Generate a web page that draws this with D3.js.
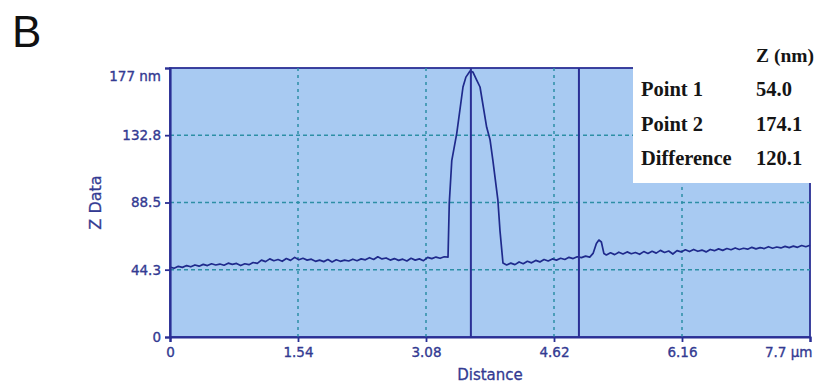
<!DOCTYPE html>
<html>
<head>
<meta charset="utf-8">
<script src="https://cdn.jsdelivr.net/npm/d3@7"></script>
<style>
html,body{margin:0;padding:0;background:#fff;}
svg{display:block;}
</style>
</head>
<body>
<svg id="chart" width="826" height="387"></svg>
<script>
// ---- data ----
const xTicks = [0, 1.54, 3.08, 4.62, 6.16, 7.7];
const xTickLabels = ["0", "1.54", "3.08", "4.62", "6.16", "7.7 µm"];
const yTicks = [0, 44.3, 88.5, 132.8, 177];
const yTickLabels = ["0", "44.3", "88.5", "132.8", "177 nm"];
const cursors = [3.62, 4.92];
const tableRows = ["Point 1", "Point 2", "Difference"];
const tableValues = ["54.0", "174.1", "120.1"];
const tableHeader = "Z (nm)";
// height profile: [distance (µm), Z (nm)]
const profile = [
 [0.00,46.0],[0.05,45.2],[0.10,46.5],[0.15,45.8],[0.20,47.0],[0.25,46.2],[0.30,47.4],[0.35,46.6],[0.40,47.8],[0.45,47.0],
 [0.50,48.2],[0.55,47.4],[0.60,48.0],[0.65,47.2],[0.70,48.6],[0.75,47.8],[0.80,48.4],[0.85,47.0],[0.90,48.2],[0.95,47.6],
 [1.00,49.0],[1.05,48.4],[1.10,50.6],[1.15,49.6],[1.20,51.4],[1.25,50.2],[1.30,51.0],[1.35,49.8],[1.40,51.6],[1.45,50.4],
 [1.50,52.4],[1.55,50.8],[1.60,51.8],[1.65,50.6],[1.70,51.2],[1.75,49.8],[1.80,50.6],[1.85,49.6],[1.90,51.0],[1.95,49.4],
 [2.00,50.8],[2.05,49.8],[2.10,50.6],[2.15,50.0],[2.20,51.2],[2.25,50.2],[2.30,51.4],[2.35,50.8],[2.40,52.2],[2.45,51.0],
 [2.50,52.8],[2.55,51.4],[2.60,52.0],[2.65,50.6],[2.70,51.6],[2.75,50.4],[2.80,51.2],[2.85,50.0],[2.90,51.8],[2.95,50.6],
 [3.00,51.4],[3.05,50.2],[3.10,52.4],[3.15,51.6],[3.20,52.6],[3.25,51.8],[3.30,52.8],[3.345,52.6],
 [3.36,88.0],[3.39,116.0],[3.45,134.0],[3.525,164.5],[3.56,171.0],[3.61,175.0],[3.645,174.3],[3.69,169.0],[3.73,164.5],
 [3.81,138.0],[3.85,130.0],[3.885,116.0],[3.945,90.0],[3.97,70.0],[4.006,48.7],
 [4.05,47.4],[4.10,48.6],[4.15,47.6],[4.20,49.4],[4.25,48.2],[4.30,49.8],[4.35,48.8],[4.40,50.4],[4.45,49.4],[4.50,51.0],
 [4.55,50.0],[4.60,51.4],[4.65,50.6],[4.70,51.8],[4.75,51.0],[4.80,52.4],[4.85,51.6],[4.90,52.8],[4.95,52.2],[5.00,53.2],
 [5.05,52.6],[5.09,55.0],[5.13,61.5],[5.16,63.8],[5.19,62.5],[5.22,55.0],[5.25,54.0],[5.30,55.4],[5.35,54.2],[5.40,55.8],
 [5.45,54.6],[5.50,56.0],[5.55,54.8],[5.60,55.6],[5.65,54.4],[5.70,56.2],[5.75,55.0],[5.80,56.4],[5.85,55.2],[5.90,57.0],
 [5.95,55.6],[6.00,56.6],[6.05,54.6],[6.10,56.8],[6.15,56.0],[6.20,57.4],[6.25,56.2],[6.30,57.6],[6.35,56.4],[6.40,57.2],
 [6.45,56.0],[6.50,57.6],[6.55,56.8],[6.60,58.0],[6.65,57.0],[6.70,58.2],[6.75,57.4],[6.80,58.6],[6.85,57.6],[6.90,58.4],
 [6.95,57.8],[7.00,59.0],[7.05,58.0],[7.10,58.8],[7.15,58.2],[7.20,59.4],[7.25,58.4],[7.30,59.2],[7.35,58.6],[7.40,59.6],
 [7.45,58.8],[7.50,59.8],[7.55,59.0],[7.60,60.2],[7.65,59.4],[7.70,60.4]
];

// ---- layout ----
const svg = d3.select("#chart");
const pL = 170, pR = 810, pT = 68, pB = 337;
const x = d3.scaleLinear().domain([0, 7.7]).range([pL, pR]);
const y = d3.scaleLinear().domain([0, 177]).range([pB, pT]);

const axisColor = "#2a2f95";
const labelColor = "#333a92";
const gridColor = "#2d8fa6";
const fillColor = "#a8caf2";
const lineColor = "#1f2a8c";

// panel letter
svg.append("text").attr("x", 12).attr("y", 47)
  .attr("font-family", "Liberation Sans, Arial, sans-serif")
  .attr("font-size", 44).attr("fill", "#111").text("B");

// plot background
svg.append("rect").attr("x", pL).attr("y", pT)
  .attr("width", pR - pL).attr("height", pB - pT)
  .attr("fill", fillColor).attr("stroke", axisColor).attr("stroke-width", 1.8);

// grid
const g = svg.append("g");
g.selectAll("line.hg").data(yTicks.filter(d => d > 0 && d < 177)).enter().append("line")
  .attr("x1", pL).attr("x2", pR)
  .attr("y1", d => y(d)).attr("y2", d => y(d))
  .attr("stroke", gridColor).attr("stroke-width", 1.5).attr("stroke-dasharray", "4,3");
g.selectAll("line.vg").data(xTicks.filter(d => d > 0 && d < 7.7)).enter().append("line")
  .attr("y1", pT).attr("y2", pB)
  .attr("x1", d => x(d)).attr("x2", d => x(d))
  .attr("stroke", gridColor).attr("stroke-width", 1.5).attr("stroke-dasharray", "3,4");

// profile line
svg.append("path").datum(profile)
  .attr("fill", "none").attr("stroke", lineColor).attr("stroke-width", 1.7)
  .attr("stroke-linejoin", "round")
  .attr("d", d3.line().x(d => x(d[0])).y(d => y(d[1])));

// cursors
svg.selectAll("line.cur").data(cursors).enter().append("line")
  .attr("x1", d => x(d)).attr("x2", d => x(d))
  .attr("y1", pT).attr("y2", pB)
  .attr("stroke", axisColor).attr("stroke-width", 2);

// axes
const yAxis = svg.append("g").attr("transform", `translate(${pL},0)`)
  .call(d3.axisLeft(y).tickValues(yTicks).tickSize(5).tickPadding(4)
    .tickFormat((d, i) => yTickLabels[i]));
const xAxis = svg.append("g").attr("transform", `translate(0,${pB})`)
  .call(d3.axisBottom(x).tickValues(xTicks).tickSize(5).tickPadding(5)
    .tickFormat((d, i) => xTickLabels[i]));
[yAxis, xAxis].forEach(a => {
  a.select(".domain").attr("stroke", axisColor).attr("stroke-width", 2.2);
  a.selectAll(".tick line").attr("stroke", axisColor).attr("stroke-width", 1.8);
  a.selectAll(".tick text").attr("fill", labelColor)
    .attr("stroke", labelColor).attr("stroke-width", 0.35)
    .attr("font-family", "DejaVu Sans, Verdana, sans-serif").attr("font-size", 13.5);
});
// top label shifted down inside, last x label right-aligned
yAxis.selectAll(".tick text").filter((d, i) => i === yTicks.length - 1).attr("dy", "0.95em");
xAxis.selectAll(".tick text").filter((d, i) => i === xTicks.length - 1)
  .attr("text-anchor", "end").attr("dx", 2);

// axis titles
svg.append("text").attr("x", (pL + pR) / 2).attr("y", 380)
  .attr("text-anchor", "middle").attr("fill", labelColor)
  .attr("stroke", labelColor).attr("stroke-width", 0.3)
  .attr("font-family", "DejaVu Sans, Verdana, sans-serif").attr("font-size", 15)
  .text("Distance");
svg.append("text").attr("transform", `translate(101,${(pT + pB) / 2}) rotate(-90)`)
  .attr("text-anchor", "middle").attr("fill", labelColor)
  .attr("stroke", labelColor).attr("stroke-width", 0.3)
  .attr("font-family", "DejaVu Sans, Verdana, sans-serif").attr("font-size", 16)
  .text("Z Data");

// readout table (white panel)
svg.append("rect").attr("x", 633).attr("y", 0).attr("width", 826 - 633).attr("height", 183)
  .attr("fill", "#fff");
const serif = "Liberation Serif, Times New Roman, serif";
svg.append("text").attr("x", 756).attr("y", 62).attr("font-family", serif)
  .attr("font-size", 19.5).attr("font-weight", "bold").attr("fill", "#151515").text(tableHeader);
const rowY = [96, 131, 165];
svg.selectAll("text.rl").data(tableRows).enter().append("text")
  .attr("x", 641).attr("y", (d, i) => rowY[i]).attr("font-family", serif)
  .attr("font-size", 20.5).attr("font-weight", "bold").attr("fill", "#151515").text(d => d);
svg.selectAll("text.rv").data(tableValues).enter().append("text")
  .attr("x", 756).attr("y", (d, i) => rowY[i]).attr("font-family", serif)
  .attr("font-size", 20.5).attr("font-weight", "bold").attr("fill", "#151515").text(d => d);
</script>
</body>
</html>
